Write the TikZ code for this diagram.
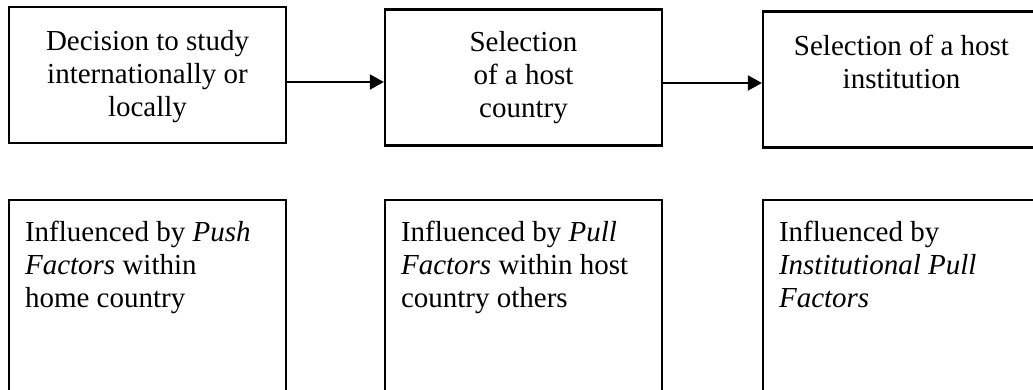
\documentclass[tikz,border=0pt]{standalone}
\usepackage{fontspec}
\setmainfont{Liberation Serif}
\usetikzlibrary{arrows.meta}
\begin{document}
\begin{tikzpicture}[x=1pt,y=-1pt,
  box/.style={draw=black,line width=2.3pt,minimum width=277pt,inner sep=0pt},
  stage/.style={box,minimum height=136pt},
  factor/.style={box,minimum height=200pt},
  caption/.style={font=\fontsize{29}{33}\selectfont,inner sep=0pt,align=center,anchor=base},
  note/.style={font=\fontsize{29}{33}\selectfont,inner sep=0pt,align=left,anchor=base west},
  flow/.style={line width=2pt,-{Triangle[length=14pt,width=15pt]}}]
\useasboundingbox (0,0) rectangle (1033,389);
\clip (0,0) rectangle (1033,389);
% decision stages (text anchored on the baseline of its last line)
\node[stage] (s1) at (147.5,75) {};
\node[stage] (s2) at (523.5,77.5) {};
\node[stage] (s3) at (901.5,79.5) {};
\node[caption] (t1) at ([yshift=-111pt]s1.north) {Decision to study\\internationally or\\locally};
\node[caption] (t2) at ([yshift=-109.5pt]s2.north) {Selection\\of a host\\country};
\node[caption] (t3) at ([yshift=-78pt]s3.north) {Selection of a host\\institution};
% influencing factors
\node[factor] (f1) at (147.5,300) {};
\node[factor] (f2) at (523.5,300) {};
\node[factor] (f3) at (901.5,300) {};
\node[note] (n1) at ([xshift=17pt,yshift=-109pt]f1.north west) {Influenced by \textit{Push}\\\textit{Factors} within\\home country};
\node[note] (n2) at ([xshift=17pt,yshift=-109pt]f2.north west) {Influenced by \textit{Pull}\\\textit{Factors} within host\\country others};
\node[note] (n3) at ([xshift=17pt,yshift=-109pt]f3.north west) {Influenced by\\\textit{Institutional Pull}\\\textit{Factors}};
% flow between stages
\draw[flow] (s1.east |- 0,82) -- (s2.west |- 0,82);
\draw[flow] (s2.east |- 0,83) -- (s3.west |- 0,83);
\end{tikzpicture}
\end{document}
